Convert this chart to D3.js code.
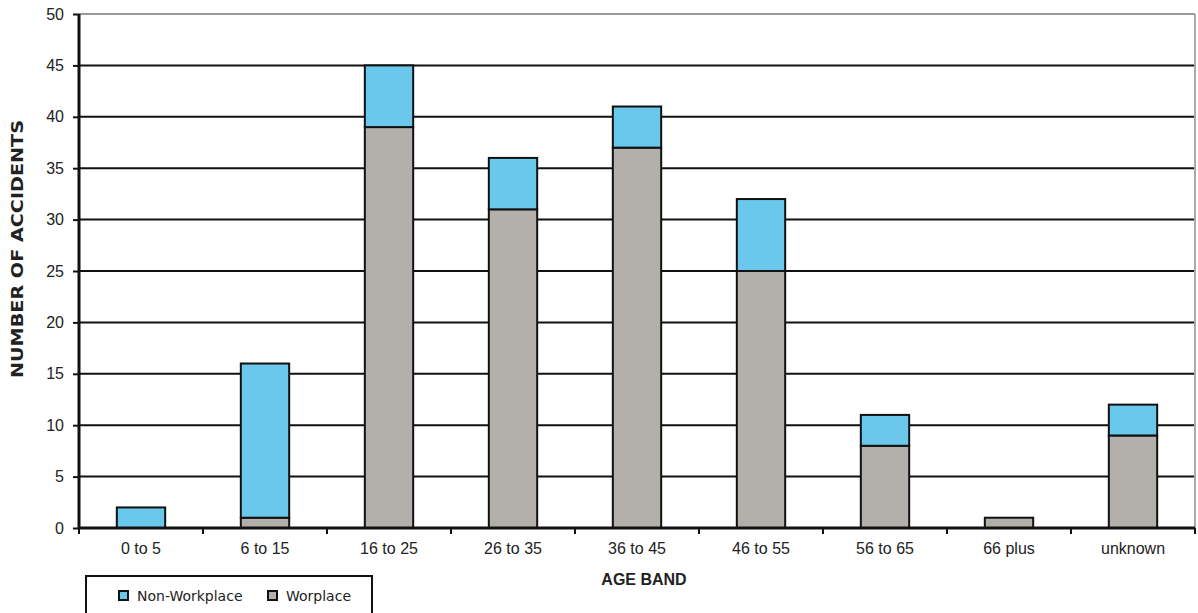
<!DOCTYPE html>
<html><head><meta charset="utf-8">
<script src="https://cdn.jsdelivr.net/npm/d3@7"></script>
<style>body{margin:0;background:#fff}svg{display:block}</style>
</head><body>
<svg id="c" width="1198" height="613"></svg>
<script>
const categories = ["0 to 5","6 to 15","16 to 25","26 to 35","36 to 45","46 to 55","56 to 65","66 plus","unknown"];
const workplace = [0,1,39,31,37,25,8,1,9];
const nonWorkplace = [2,15,6,5,4,7,3,0,3];
const yTicks = [0,5,10,15,20,25,30,35,40,45,50];
const seriesNames = ["Non-Workplace","Worplace"];
const colors = {work:"#b3b0ab", non:"#6ac8ec"};

const svg = d3.select("#c");
const L=79, R=1195, T=14, B=528;
const x = d3.scaleBand().domain(categories).range([L,R]).paddingInner(0.61).paddingOuter(0.305);
const y = d3.scaleLinear().domain([0,50]).range([B,T]);
const AF = "'Liberation Sans', Arial, sans-serif";

// gridlines
svg.append("g").selectAll("line").data(yTicks.filter(d=>d>0)).join("line")
  .attr("x1",L).attr("x2",R).attr("y1",d=>y(d)).attr("y2",d=>y(d))
  .attr("stroke",d=>d===50?"#999":"#111").attr("stroke-width",2);
// right border
svg.append("line").attr("x1",R).attr("x2",R).attr("y1",T).attr("y2",B).attr("stroke","#aaa").attr("stroke-width",2);

const data = categories.map((c,i)=>({c,w:workplace[i],n:nonWorkplace[i]}));
const g = svg.append("g");
data.forEach(d=>{
  if(d.w>0) g.append("rect").attr("x",x(d.c)).attr("width",x.bandwidth())
    .attr("y",y(d.w)).attr("height",y(0)-y(d.w)).attr("fill",colors.work).attr("stroke","#111").attr("stroke-width",2);
  if(d.n>0) g.append("rect").attr("x",x(d.c)).attr("width",x.bandwidth())
    .attr("y",y(d.w+d.n)).attr("height",y(d.w)-y(d.w+d.n)).attr("fill",colors.non).attr("stroke","#111").attr("stroke-width",2);
});

// y axis
const ya = svg.append("g").attr("transform",`translate(${L},0)`)
  .call(d3.axisLeft(y).tickValues(yTicks).tickSize(6).tickPadding(9));
ya.attr("font-family",AF).attr("font-size",16);
ya.select(".domain").attr("stroke","#111").attr("stroke-width",3).attr("d",`M0,${T}V${B}`);
ya.selectAll(".tick line").attr("stroke","#111").attr("stroke-width",2);
ya.selectAll("text").attr("fill","#222");

// x axis
const xa = svg.append("g").attr("transform",`translate(0,${B})`)
  .call(d3.axisBottom(x).tickSize(0).tickPadding(15));
xa.attr("font-family",AF).attr("font-size",16);
xa.select(".domain").attr("stroke","#111").attr("stroke-width",3).attr("d",`M${L},0H${R}`);
xa.selectAll("text").attr("fill","#222");
const step = x.step();
svg.append("g").selectAll("line").data(d3.range(categories.length+1)).join("line")
  .attr("x1",i=>L+i*step).attr("x2",i=>L+i*step).attr("y1",B).attr("y2",B+6)
  .attr("stroke","#111").attr("stroke-width",2);

// titles
svg.append("text").attr("x",644).attr("y",585).attr("text-anchor","middle")
  .attr("font-family",AF).attr("font-weight","bold").attr("font-size",16).attr("fill","#222").text("AGE BAND");
svg.append("text").attr("transform","translate(23,249) rotate(-90)").attr("text-anchor","middle")
  .attr("font-family","'DejaVu Sans', sans-serif").attr("font-weight","bold").attr("font-size",16)
  .attr("textLength",258).attr("lengthAdjust","spacingAndGlyphs").attr("fill","#222").text("NUMBER OF ACCIDENTS");

// legend
const lg = svg.append("g");
lg.append("rect").attr("x",86).attr("y",576).attr("width",286).attr("height",40).attr("fill","#fff").attr("stroke","#111").attr("stroke-width",2);
const items = [{n:seriesNames[0],c:colors.non,x:119},{n:seriesNames[1],c:colors.work,x:268}];
items.forEach(it=>{
  lg.append("rect").attr("x",it.x).attr("y",591).attr("width",9).attr("height",9).attr("fill",it.c).attr("stroke","#111").attr("stroke-width",2);
  lg.append("text").attr("x",it.x+18).attr("y",601).attr("font-family","'DejaVu Sans', sans-serif").attr("font-size",14).attr("fill","#222").text(it.n);
});
</script>
</body></html>
